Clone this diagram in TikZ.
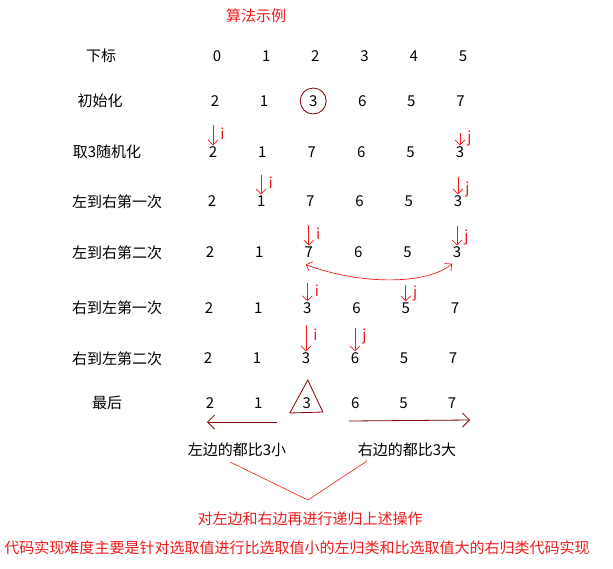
\documentclass[tikz,border=0pt]{standalone}
\usepackage{fontspec}
\setmainfont{Noto Sans CJK SC}
\usepackage{tikz}
\usetikzlibrary{arrows.meta, positioning, calc}
\definecolor{handred}{HTML}{800000}
\definecolor{pen}{HTML}{F01A1A}

\begin{document}
\begin{tikzpicture}[
    x=1pt, y=-1pt,
    >={Straight Barb[length=5pt,width=10pt]},
    font=\fontsize{15pt}{18pt}\selectfont,
    num/.style={inner sep=1pt},
    rowlbl/.style={inner sep=1pt},
    ptr/.style={draw=pen, ->, line width=0.7pt},
    ptrlbl/.style={text=pen, right, xshift=6pt, inner sep=1pt},
    hand/.style={draw=handred, line width=0.8pt},
    note/.style={text=pen},
]
    \useasboundingbox (0,0) rectangle (613,568);

    \node[note]   (title)  at (256,16)  {算法示例};

    % row labels
    \node[rowlbl] (lblIdx)  at (101,56)  {下标};
    \node[rowlbl] (lblInit) at (100,101) {初始化};
    \node[rowlbl] (lblRand) at (107,152) {取3随机化};
    \node[rowlbl] (lblLtrA) at (117,202) {左到右第一次};
    \node[rowlbl] (lblLtrB) at (117,253) {左到右第二次};
    \node[rowlbl] (lblRtlA) at (117,308) {右到左第一次};
    \node[rowlbl] (lblRtlB) at (117,359) {右到左第二次};
    \node[rowlbl] (lblLast) at (107,403) {最后};

    % values
    \foreach \v [count=\k from 0] in {0,1,2,3,4,5}
        \node[num] (idx\k)  at ({217+49.2*\k},56)  {\v};
    \foreach \v [count=\k from 0] in {2,1,3,6,5,7}
        \node[num] (init\k) at ({215+49.1*\k},101) {\v};
    \foreach \v [count=\k from 0] in {2,1,7,6,5,3}
        \node[num] (rand\k) at ({213+49.4*\k},152) {\v};
    \foreach \v [count=\k from 0] in {2,1,7,6,5,3}
        \node[num] (ltrA\k) at ({212+49.2*\k},201) {\v};
    \foreach \v [count=\k from 0] in {2,1,7,6,5,3}
        \node[num] (ltrB\k) at ({210+49.4*\k},252) {\v};
    \foreach \v [count=\k from 0] in {2,1,3,6,5,7}
        \node[num] (rtlA\k) at ({209+49.2*\k},308) {\v};
    \foreach \v [count=\k from 0] in {2,1,3,6,5,7}
        \node[num] (rtlB\k) at ({208+49*\k},358)   {\v};
    \foreach \v [count=\k from 0] in {2,1,3,6,5,7}
        \node[num] (last\k) at ({210+48.4*\k},403) {\v};

    % pivot marks
    \draw[hand] (init2) circle (13pt);
    \draw[hand] ([xshift=1pt,yshift=23pt]last2.center) -- ([xshift=-17pt,yshift=-10pt]last2.center)
        -- ([xshift=16pt,yshift=-9pt]last2.center) -- cycle;

    % i / j pointers
    \draw[ptr] ([yshift=20pt]rand0.north) -- (rand0.north) node[ptrlbl, pos=0.4] {i};
    \draw[ptr] ([yshift=12pt]rand5.north) -- (rand5.north) node[ptrlbl, pos=0.4] {j};
    \draw[ptr] ([yshift=19pt]ltrA1.north) -- (ltrA1.north) node[ptrlbl, pos=0.4] {i};
    \draw[ptr] ([yshift=17pt]ltrA5.north) -- (ltrA5.north) node[ptrlbl, pos=0.7] {j};
    \draw[ptr] ([yshift=20pt]ltrB2.north) -- (ltrB2.north) node[ptrlbl, pos=0.4] {i};
    \draw[ptr] ([yshift=19pt]ltrB5.north) -- (ltrB5.north) node[ptrlbl, pos=0.6] {j};
    \draw[ptr] ([yshift=18pt]rtlA2.north) -- (rtlA2.north) node[ptrlbl, pos=0.4] {i};
    \draw[ptr] ([yshift=16pt]rtlA4.north) -- (rtlA4.north) node[ptrlbl, pos=0.5] {j};
    \draw[ptr] ([yshift=26pt]rtlB2.north) -- (rtlB2.north) node[ptrlbl, pos=0.38] {i};
    \draw[ptr] ([yshift=23pt]rtlB3.north) -- (rtlB3.north) node[ptrlbl, pos=0.35] {j};

    % swap
    \draw[ptr, <->] ([xshift=-3pt,yshift=-6pt]ltrB2.south) .. controls (360,285) and (427,285)
        .. ([xshift=-5pt,yshift=-5pt]ltrB5.south);

    % split
    \coordinate (lessTail) at (277,422);
    \coordinate (lessHead) at (207,422);
    \coordinate (moreTail) at (349,421);
    \coordinate (moreHead) at (470,420);
    \draw[hand, -{Straight Barb[length=7pt,width=14pt]}] (lessTail) -- (lessHead);
    \draw[hand, -{Straight Barb[length=7pt,width=14pt]}] (moreTail) -- (moreHead);

    \node (lessLbl) at (237,450) {左边的都比3小};
    \node (moreLbl) at (407,450) {右边的都比3大};

    \coordinate (vLeft)  at (230,462);
    \coordinate (vTip)   at (308,500);
    \coordinate (vRight) at (367,461);
    \draw[draw=pen, line width=0.6pt] (vLeft) -- (vTip) -- (vRight);

    \node[note] (recur)   at (310,519) {对左边和右边再进行递归上述操作};
    \node[note] (summary) at (297,548) {代码实现难度主要是针对选取值进行比选取值小的左归类和比选取值大的右归类代码实现};
\end{tikzpicture}
\end{document}
